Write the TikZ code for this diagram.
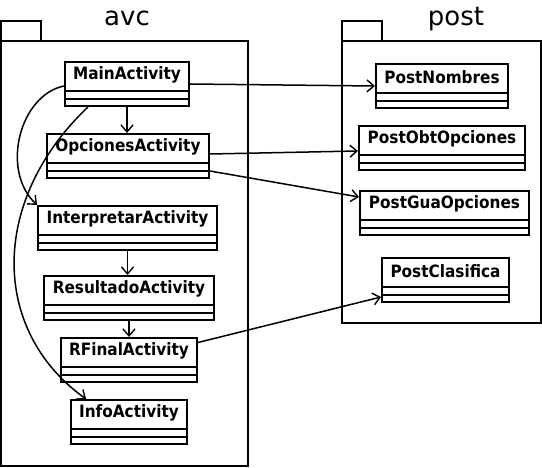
\documentclass[tikz,border=0pt]{standalone}
\usepackage{fontspec}
\setmainfont{DejaVu Sans}
\newfontfamily\clsfont{DejaVu Sans Condensed}
\usetikzlibrary{arrows.meta}
\tikzset{
  pkg/.style={draw, line width=2pt},
  pkglabel/.style={font=\fontsize{26}{30}\selectfont, anchor=base, inner sep=0},
  clsbox/.style={draw, line width=2pt, anchor=north west, inner sep=0, minimum height=44pt},
  clsname/.style={font=\clsfont\fontsize{17}{20}\selectfont\bfseries, inner sep=0},
  dep/.style={line width=1.5pt, -{Straight Barb[length=7pt,width=12pt,line width=1.4pt]}},
}
\newcommand\umlcls[5]{% name, x1, y1, width, text
  \node[clsbox, minimum width=#4pt] (#1) at (#2,#3) {};
  \node[clsname] (#1-t) at ([yshift=-14pt]#1.north) {#5};
  \draw[line width=2pt] ([yshift=16pt]#1.south west) -- ([yshift=16pt]#1.south east);
  \draw[line width=2pt] ([yshift=8pt]#1.south west) -- ([yshift=8pt]#1.south east);
}
\begin{document}
\begin{tikzpicture}[x=1pt, y=-1pt]
\useasboundingbox (0,0) rectangle (542,468);
% packages
\draw[pkg] (1,21) rectangle (41,41);
\draw[pkg] (1,41) rectangle (248,466);
\node[pkglabel] (avc) at (127,26) {avc};
\draw[pkg] (342,21) rectangle (382,41);
\draw[pkg] (342,41) rectangle (541,323);
\node[pkglabel] (post) at (456,26) {post};
% classes
\umlcls{main}{64}{61}{124}{MainActivity}
\umlcls{opc}{46}{133}{162}{OpcionesActivity}
\umlcls{interp}{37}{205}{179}{InterpretarActivity}
\umlcls{res}{43}{275}{170}{ResultadoActivity}
\umlcls{rfin}{60}{337}{136}{RFinalActivity}
\umlcls{info}{70}{399}{116}{InfoActivity}
\umlcls{pnom}{375}{63}{132}{PostNombres}
\umlcls{pobt}{358}{125}{166}{PostObtOpciones}
\umlcls{pgua}{359}{190}{169}{PostGuaOpciones}
\umlcls{pclas}{381}{257}{127}{PostClasifica}
% connectors
\draw[dep] (main.east) -- (pnom.west);
\draw[dep] (main.south) -- (main.south |- opc.north);
\draw[dep] ([yshift=2pt]opc.east) -- ([yshift=-3pt]pobt.west);
\draw[dep] ([yshift=-15pt]opc.east) -- ([yshift=16pt]pgua.west);
\draw[dep] ([yshift=17.5pt]rfin.east) -- ([yshift=-17pt]pclas.west);
\draw[dep] (interp.south) -- (interp.south |- res.north);
\draw[dep] (res.south) -- (res.south |- rfin.north);
\coordinate (a0) at ([yshift=-2pt]main.west);
\draw[dep] (a0) .. controls (20,95) and (0,170) .. (interp.north west);
\coordinate (b0) at ([xshift=-39pt]main.south);
\coordinate (b1) at ([xshift=-43pt]info.north);
\draw[dep] (b0) .. controls (-10,200) and (-10,330) .. (b1);
\end{tikzpicture}
\end{document}
